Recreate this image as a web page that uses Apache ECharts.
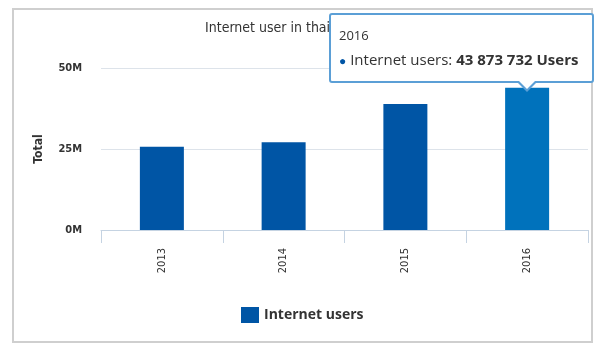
<!DOCTYPE html>
<html>
<head>
<meta charset="utf-8">
<script src="https://cdn.jsdelivr.net/npm/echarts@6/dist/echarts.min.js"></script>
<style>
html,body{margin:0;padding:0;background:#fff;overflow:hidden;}
#main{width:594px;height:344px;}
</style>
</head>
<body>
<div id="main"></div>
<script>
var categories = ['2013', '2014', '2015', '2016'];
var internetUsers = [25700000, 27100000, 38900000, 43873732];
var seriesName = 'Internet users';
var titleText = 'Internet user in thailand';
var yAxisName = 'Total';
var highlightIndex = 3;

function fmtSpaces(v) {
  return String(Math.round(v)).replace(/\B(?=(\d{3})+(?!\d))/g, ' ');
}

var chart = echarts.init(document.getElementById('main'));
var option = {
  animation: false,
  backgroundColor: '#fff',
  title: {
    text: titleText,
    left: 200, top: 16,
    textStyle: {fontFamily: 'DejaVu Sans Condensed', fontSize: 14, fontWeight: 'normal', color: '#333'}
  },
  graphic: [{
    type: 'rect', z: -1,
    shape: {x: 13, y: 9, width: 579, height: 333},
    style: {fill: 'none', stroke: '#cfcfcf', lineWidth: 2}
  }],
  grid: {left: 101, right: 6, top: 68, bottom: 114},
  legend: {
    left: 236, top: 302,
    itemWidth: 18, itemHeight: 16, itemGap: 10,
    icon: 'rect',
    textStyle: {fontFamily: 'Open Sans', fontSize: 14, fontWeight: 'bold', color: '#333'},
    data: [seriesName]
  },
  tooltip: {
    trigger: 'item',
    triggerOn: 'none',
    alwaysShowContent: true,
    transitionDuration: 0,
    position: function () { return [329, 13]; },
    backgroundColor: '#fff',
    borderColor: '#5b9fd6',
    borderWidth: 2,
    borderRadius: 3,
    padding: [8, 14, 8, 8],
    extraCssText: 'box-shadow:none;overflow:visible;',
    formatter: function (p) {
      return '<div style="position:relative;font-family:Open Sans;line-height:24px;">' +
        '<div style="font-size:13px;color:#333;">' + p.name + '</div>' +
        '<div style="font-size:15px;color:#333;white-space:nowrap;">' +
        '<span style="color:#0055a5;font-size:12px;">&#9679;</span> ' +
        p.seriesName + ': <b>' + fmtSpaces(p.value) + ' Users</b></div>' +
        '<div style="position:absolute;left:177px;bottom:-19px;width:0;height:0;border-left:11px solid transparent;border-right:11px solid transparent;border-top:11px solid #5b9fd6;"></div>' +
        '<div style="position:absolute;left:180px;bottom:-16px;width:0;height:0;border-left:8px solid transparent;border-right:8px solid transparent;border-top:8px solid #fff;"></div>' +
        '</div>';
    }
  },
  xAxis: {
    type: 'category',
    data: categories,
    axisLine: {lineStyle: {color: '#c5d3e2', width: 1}},
    axisTick: {show: true, length: 13, lineStyle: {color: '#c5d3e2'}},
    axisLabel: {rotate: 90, margin: 18, fontFamily: 'DejaVu Sans Condensed', fontSize: 11, color: '#333'}
  },
  yAxis: {
    type: 'value',
    min: 0, max: 50000000, interval: 25000000,
    name: yAxisName,
    nameLocation: 'middle',
    nameGap: 56,
    nameRotate: 90,
    nameTextStyle: {fontFamily: 'DejaVu Sans Condensed', fontSize: 12, fontWeight: 'bold', color: '#333'},
    axisLine: {show: false},
    axisTick: {show: false},
    splitLine: {lineStyle: {color: '#dde3ea', width: 1}},
    axisLabel: {
      margin: 19,
      fontFamily: 'DejaVu Sans Condensed', fontSize: 11, fontWeight: 'bold', color: '#333',
      formatter: function (v) { return (v / 1000000) + 'M'; }
    }
  },
  series: [{
    name: seriesName,
    type: 'bar',
    barWidth: 44,
    itemStyle: {color: '#0055a5'},
    data: internetUsers.map(function (v, i) {
      return i === highlightIndex ? {value: v, itemStyle: {color: '#0072bc'}} : v;
    })
  }]
};
chart.setOption(option);
chart.dispatchAction({type: 'showTip', seriesIndex: 0, dataIndex: highlightIndex});
</script>
</body>
</html>
